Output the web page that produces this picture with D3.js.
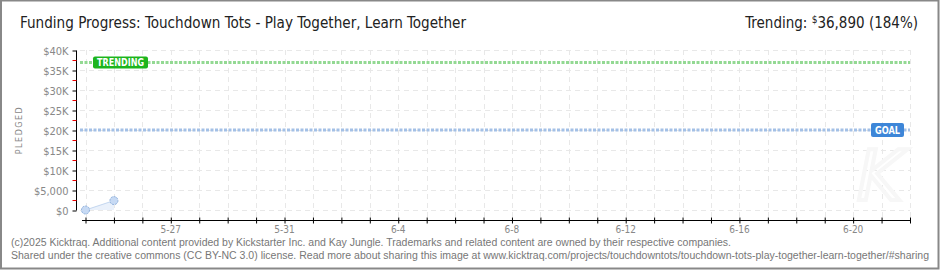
<!DOCTYPE html>
<html>
<head>
<meta charset="utf-8">
<script src="https://cdn.jsdelivr.net/npm/d3@7"></script>
<style>
    body { margin: 0; background: #fff; }
    svg { display: block; }
</style>
</head>
<body>
<div id="chart"></div>
<script>
var dates = ["2025-05-24", "2025-05-25"];
var pledged = [0, 2350];
var goal = 20000;
var trending = 36890;
var yTicks = [0, 5000, 10000, 15000, 20000, 25000, 30000, 35000, 40000];
var yTickLabels = ["$0", "$5,000", "$10K", "$15K", "$20K", "$25K", "$30K", "$35K", "$40K"];
var xLabelDates = ["2025-05-27", "2025-05-31", "2025-06-04", "2025-06-08", "2025-06-12", "2025-06-16", "2025-06-20"];
var xLabels = ["5-27", "5-31", "6-4", "6-8", "6-12", "6-16", "6-20"];
var titleText = "Funding Progress: Touchdown Tots - Play Together, Learn Together";
var footer1 = "(c)2025 Kicktraq. Additional content provided by Kickstarter Inc. and Kay Jungle. Trademarks and related content are owned by their respective companies.";
var footer2 = "Shared under the creative commons (CC BY-NC 3.0) license. Read more about sharing this image at www.kicktraq.com/projects/touchdowntots/touchdown-tots-play-together-learn-together/#sharing";

var W = 940, H = 270;
var parse = d3.utcParse("%Y-%m-%d");

var x = d3.scaleUtc()
    .domain([parse("2025-05-24"), parse("2025-06-22")])
    .range([85.5, 910]);
var y = d3.scaleLinear()
    .domain([0, 40000])
    .range([210, 50]);

var svg = d3.select("#chart")
    .append("svg")
    .attr("width", W)
    .attr("height", H);

// frame
svg.append("rect")
    .attr("x", 1).attr("y", 0.5)
    .attr("width", W - 2.5).attr("height", H - 2)
    .attr("fill", "#fff")
    .attr("stroke", "#888")
    .attr("stroke-width", 2);

// title
svg.append("text")
    .attr("x", 20).attr("y", 28)
    .attr("font-family", "'DejaVu Sans Condensed', 'Liberation Sans Narrow', sans-serif")
    .attr("font-size", 15)
    .attr("fill", "#222")
    .attr("textLength", 446)
    .attr("lengthAdjust", "spacingAndGlyphs")
    .text(titleText);

var tr = svg.append("text")
    .attr("x", 918).attr("y", 28)
    .attr("text-anchor", "end")
    .attr("font-family", "'DejaVu Sans Condensed', 'Liberation Sans Narrow', sans-serif")
    .attr("font-size", 15)
    .attr("fill", "#222");
tr.append("tspan").text("Trending:  ");
tr.append("tspan").attr("font-size", 10).attr("dy", -5).text("$");
tr.append("tspan").attr("dy", 5).text(d3.format(",")(trending) + " (" + Math.round(trending / goal * 100) + "%)");

// grid
var days = d3.utcDay.range(parse("2025-05-24"), d3.utcDay.offset(parse("2025-06-22"), 1));
svg.append("g")
    .selectAll("line")
    .data(days)
    .join("line")
    .attr("x1", function (d) { return Math.round(x(d)) + 0.5; })
    .attr("x2", function (d) { return Math.round(x(d)) + 0.5; })
    .attr("y1", 50).attr("y2", 218)
    .attr("stroke", "#e8e8e8")
    .attr("stroke-dasharray", "5,4");
svg.append("g")
    .selectAll("line")
    .data(yTicks)
    .join("line")
    .attr("x1", 80).attr("x2", 910)
    .attr("y1", function (d) { return y(d) + 0.5; })
    .attr("y2", function (d) { return y(d) + 0.5; })
    .attr("stroke", "#e8e8e8")
    .attr("stroke-dasharray", "5,4");

// watermark
svg.append("text")
    .attr("x", 880).attr("y", 200)
    .attr("text-anchor", "middle")
    .attr("font-family", "'DejaVu Sans', sans-serif")
    .attr("font-style", "italic")
    .attr("font-size", 70)
    .attr("fill", "none")
    .attr("stroke", "#f7f7f7")
    .attr("stroke-width", 4)
    .text("K");

// y axis
var yAxis = d3.axisLeft(y)
    .tickValues(yTicks)
    .tickSize(4)
    .tickFormat(function (d, i) { return yTickLabels[i]; });
var gy = svg.append("g")
    .attr("transform", "translate(76.5,0.5)")
    .call(yAxis);
gy.select(".domain").attr("stroke", "#000").attr("d", "M0,50V210");
gy.selectAll(".tick line").attr("stroke", "#000");
gy.selectAll(".tick text")
    .attr("x", -8)
    .attr("fill", "#888")
    .attr("font-family", "'DejaVu Sans Condensed', sans-serif")
    .attr("font-size", 11);
gy.selectAll(".minor")
    .data(d3.range(2500, 40000, 5000))
    .join("line")
    .attr("class", "minor")
    .attr("x1", -4).attr("x2", 0)
    .attr("y1", function (d) { return y(d); })
    .attr("y2", function (d) { return y(d); })
    .attr("stroke", "#e00");

svg.append("text")
    .attr("transform", "translate(22,130) rotate(-90)")
    .attr("text-anchor", "middle")
    .attr("font-family", "'DejaVu Sans', sans-serif")
    .attr("font-size", 8)
    .attr("letter-spacing", 1.5)
    .attr("fill", "#888")
    .text("PLEDGED");

// x axis
var xAxis = d3.axisBottom(x)
    .tickValues(days)
    .tickSize(0)
    .tickFormat("");
var gx = svg.append("g")
    .attr("transform", "translate(0,220.5)")
    .call(xAxis);
gx.select(".domain").attr("stroke", "#000").attr("d", "M82,0H911");
gx.selectAll(".tick line")
    .attr("y1", -3).attr("y2", 3)
    .attr("stroke", "#000");
svg.append("g")
    .selectAll("text")
    .data(xLabelDates)
    .join("text")
    .attr("x", function (d) { return x(parse(d)); })
    .attr("y", 233)
    .attr("text-anchor", "middle")
    .attr("font-family", "'DejaVu Sans Condensed', sans-serif")
    .attr("font-size", 10)
    .attr("fill", "#888")
    .text(function (d, i) { return xLabels[i]; });

// goal and trending lines
svg.append("line")
    .attr("x1", 80).attr("x2", 910)
    .attr("y1", y(goal)).attr("y2", y(goal))
    .attr("stroke", "#a3c0e6")
    .attr("stroke-width", 3)
    .attr("stroke-dasharray", "3,1.5");
svg.append("line")
    .attr("x1", 80).attr("x2", 910)
    .attr("y1", y(trending)).attr("y2", y(trending))
    .attr("stroke", "#93d993")
    .attr("stroke-width", 3)
    .attr("stroke-dasharray", "3,1.5");

function badge(label, bx, cy, w, h, fill) {
    svg.append("rect")
        .attr("x", bx).attr("y", cy - h / 2)
        .attr("width", w).attr("height", h)
        .attr("rx", 2)
        .attr("fill", fill);
    svg.append("text")
        .attr("x", bx + 4).attr("y", cy + 4)
        .attr("font-family", "'DejaVu Sans', sans-serif")
        .attr("font-weight", "bold")
        .attr("font-size", 10)
        .attr("fill", "#fff")
        .attr("textLength", w - 8)
        .attr("lengthAdjust", "spacingAndGlyphs")
        .text(label);
}
badge("TRENDING", 93, y(trending), 55, 12, "#1db51d");
badge("GOAL", 871, y(goal), 33, 14, "#3d86d8");

// pledged series
var pts = dates.map(function (d, i) { return { date: parse(d), value: pledged[i] }; });
svg.append("path")
    .datum(pts)
    .attr("fill", "#eaf1fb")
    .attr("d", d3.area()
        .x(function (d) { return x(d.date); })
        .y0(y(0))
        .y1(function (d) { return y(d.value); }));
svg.append("path")
    .datum(pts)
    .attr("fill", "none")
    .attr("stroke", "#c4d7f0")
    .attr("stroke-width", 1)
    .attr("d", d3.line()
        .x(function (d) { return x(d.date); })
        .y(function (d) { return y(d.value); }));
svg.append("g")
    .selectAll("circle")
    .data(pts)
    .join("circle")
    .attr("cx", function (d) { return x(d.date); })
    .attr("cy", function (d) { return y(d.value); })
    .attr("r", 4)
    .attr("fill", "#c7daf4")
    .attr("stroke", "#8fb0dc")
    .attr("stroke-width", 1)
    .attr("stroke-dasharray", "2,1");

// footer
svg.append("text")
    .attr("x", 11).attr("y", 246)
    .attr("font-family", "'Liberation Sans', Arial, sans-serif")
    .attr("font-size", 10)
    .attr("fill", "#777")
    .attr("textLength", 720)
    .attr("lengthAdjust", "spacingAndGlyphs")
    .text(footer1);
svg.append("text")
    .attr("x", 11).attr("y", 259)
    .attr("font-family", "'Liberation Sans', Arial, sans-serif")
    .attr("font-size", 10)
    .attr("fill", "#777")
    .attr("textLength", 918)
    .attr("lengthAdjust", "spacingAndGlyphs")
    .text(footer2);
</script>
</body>
</html>
